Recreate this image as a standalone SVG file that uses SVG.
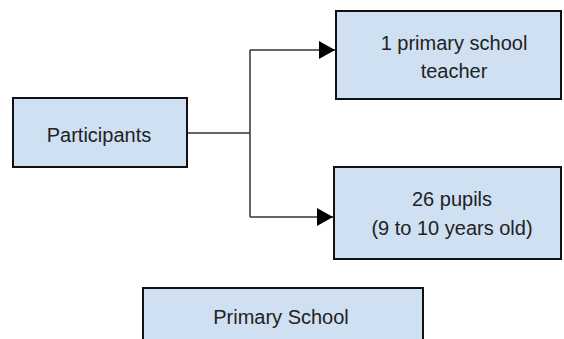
<svg xmlns="http://www.w3.org/2000/svg" width="564" height="339" viewBox="0 0 564 339">
<style>
.box{fill:#cfe0f2;stroke:#111;stroke-width:2}
.t{font-family:"Liberation Sans",Arial,sans-serif;font-size:20px;fill:#222;text-anchor:middle}
.c{fill:none;stroke:#333;stroke-width:1.5}
</style>
<defs>
<marker id="ah" markerWidth="16" markerHeight="18" refX="16" refY="9" orient="auto" markerUnits="userSpaceOnUse">
<path d="M0,0 L16,9 L0,18 Z" fill="#000"/>
</marker>
</defs>
<rect width="564" height="339" fill="#fff"/>
<g id="connectors">
<path class="c" d="M187,133 H250"/>
<path class="c" d="M250,50 V217"/>
<path class="c" d="M250,50 H335" marker-end="url(#ah)"/>
<path class="c" d="M250,217 H333" marker-end="url(#ah)"/>
</g>
<g id="participants">
<rect class="box" x="13" y="98" width="174" height="69"/>
<text class="t" x="99" y="142">Participants</text>
</g>
<g id="teacher">
<rect class="box" x="336" y="11" width="225" height="88"/>
<text class="t" x="454" y="50">1 primary school</text>
<text class="t" x="454" y="78">teacher</text>
</g>
<g id="pupils">
<rect class="box" x="334" y="167" width="227" height="92"/>
<text class="t" x="452" y="206">26 pupils</text>
<text class="t" x="452" y="235">(9 to 10 years old)</text>
</g>
<g id="school">
<rect class="box" x="143" y="288" width="280" height="60"/>
<text class="t" x="281" y="324">Primary School</text>
</g>
</svg>
